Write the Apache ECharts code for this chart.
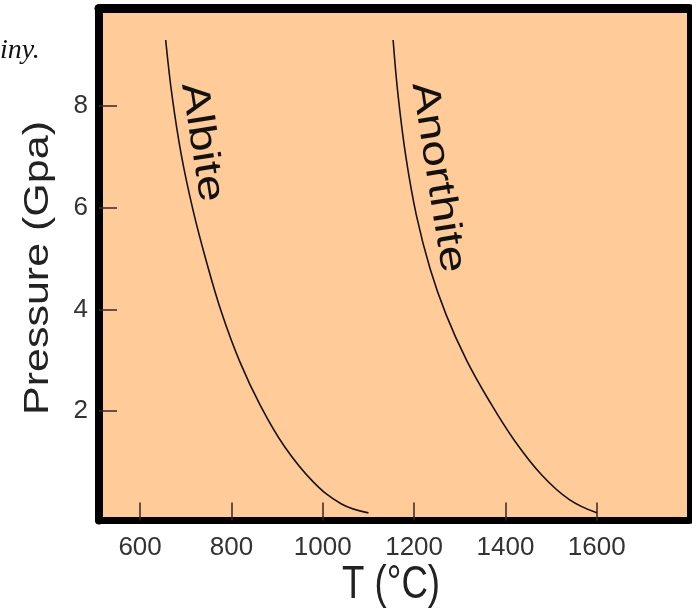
<!DOCTYPE html>
<html>
<head>
<meta charset="utf-8">
<style>
  html, body { margin: 0; padding: 0; background: #ffffff; }
  #chart { width: 692px; height: 613px; }
</style>
<script src="https://cdn.jsdelivr.net/npm/echarts@6/dist/echarts.min.js"></script>
</head>
<body>
<div id="chart"></div>
<script>
// Melting curves of plagioclase end-members: temperature (°C) vs pressure (GPa)
const albiteT = [656, 670, 690, 716, 745, 778, 818, 864, 915, 978, 1040, 1100];
const albiteP = [9.30, 8.20, 7.05, 5.95, 4.95, 3.95, 2.98, 2.10, 1.32, 0.62, 0.18, 0];

const anorthiteT = [1154, 1165, 1182, 1205, 1235, 1270, 1315, 1366, 1420, 1480, 1540, 1600];
const anorthiteP = [9.30, 8.20, 7.00, 5.85, 4.80, 3.90, 3.00, 2.18, 1.42, 0.74, 0.26, 0];

const tempTicks = [600, 800, 1000, 1200, 1400, 1600];
const pressureTicks = [2, 4, 6, 8];

// Curve names and the point on each curve's side where the name is centred
const curveNames = ['Albite', 'Anorthite'];
const nameAnchorT = [735, 1252];
const nameAnchorP = [7.29, 6.60];

const pairs = (xs, ys) => xs.map((x, i) => [x, ys[i]]);

const chart = echarts.init(document.getElementById('chart'), null, { renderer: 'canvas' });

const sansFont = '"Liberation Sans", Arial, Helvetica, sans-serif';
const curveStyle = { color: '#141414', width: 1.6 };
const deg = Math.PI / 180;

chart.setOption({
  backgroundColor: '#ffffff',
  animation: false,
  grid: {
    left: 99, top: 8.5, right: 2.5, bottom: 92.5,
    show: true,
    backgroundColor: '#FFCC99',
    borderWidth: 0
  },
  xAxis: [
    {
      type: 'value',
      min: 510, max: 1803,
      position: 'bottom',
      splitLine: { show: false },
      axisLine: { show: true, onZero: false, lineStyle: { color: '#000', width: 7 } },
      axisTick: {
        show: true, inside: true, length: 18,
        customValues: tempTicks,
        lineStyle: { color: '#3a2424', width: 1.5 }
      },
      axisLabel: {
        show: true, margin: 14,
        customValues: tempTicks,
        formatter: v => String(v),
        color: '#333', fontSize: 26, fontFamily: sansFont
      }
    },
    {
      type: 'value',
      min: 510, max: 1803,
      position: 'top',
      splitLine: { show: false },
      axisLine: { show: true, onZero: false, lineStyle: { color: '#000', width: 9 } },
      axisTick: { show: false },
      axisLabel: { show: false }
    }
  ],
  yAxis: [
    {
      type: 'value',
      min: -0.15, max: 9.92,
      position: 'left',
      splitLine: { show: false },
      axisLine: { show: true, onZero: false, lineStyle: { color: '#000', width: 8 } },
      axisTick: {
        show: true, inside: true, length: 18,
        customValues: pressureTicks,
        lineStyle: { color: '#3a2424', width: 1.5 }
      },
      axisLabel: {
        show: true, margin: 11,
        customValues: pressureTicks,
        formatter: v => String(v),
        color: '#333', fontSize: 26, fontFamily: sansFont
      }
    },
    {
      type: 'value',
      min: -0.15, max: 9.92,
      position: 'right',
      splitLine: { show: false },
      axisLine: { show: true, onZero: false, lineStyle: { color: '#000', width: 5 } },
      axisTick: { show: false },
      axisLabel: { show: false }
    }
  ],
  series: [
    {
      name: 'Albite',
      type: 'line',
      smooth: 0.4,
      showSymbol: false,
      lineStyle: curveStyle,
      data: pairs(albiteT, albiteP),
      z: 3
    },
    {
      name: 'Anorthite',
      type: 'line',
      smooth: 0.4,
      showSymbol: false,
      lineStyle: curveStyle,
      data: pairs(anorthiteT, anorthiteP),
      z: 3
    }
  ]
});

// Axis titles and curve names: narrow-set lettering, drawn as graphic text
const curveNameGraphics = curveNames.map((n, i) => {
  const [px, py] = chart.convertToPixel({ xAxisIndex: 0, yAxisIndex: 0 }, [nameAnchorT[i], nameAnchorP[i]]);
  return {
    type: 'text',
    x: px, y: py,
    rotation: -81 * deg,
    scaleY: 0.8,
    z: 10,
    style: {
      text: n,
      fill: '#111',
      font: '48px ' + sansFont,
      align: 'center',
      verticalAlign: 'middle'
    }
  };
});

chart.setOption({
  graphic: [
    {
      type: 'text',
      left: 0,
      top: 37,
      style: {
        text: 'iny.',
        fill: '#111',
        font: 'italic 28px "Liberation Serif", "Times New Roman", serif'
      }
    },
    {
      type: 'text',
      x: 391, y: 585,
      scaleX: 0.78,
      style: {
        text: 'T (°C)',
        fill: '#222',
        font: '47px ' + sansFont,
        align: 'center',
        verticalAlign: 'middle'
      }
    },
    {
      type: 'text',
      x: 39, y: 268,
      rotation: 90 * deg,
      scaleY: 0.8,
      style: {
        text: 'Pressure (Gpa)',
        fill: '#222',
        font: '43px ' + sansFont,
        align: 'center',
        verticalAlign: 'middle'
      }
    }
  ].concat(curveNameGraphics)
});
</script>
</body>
</html>
